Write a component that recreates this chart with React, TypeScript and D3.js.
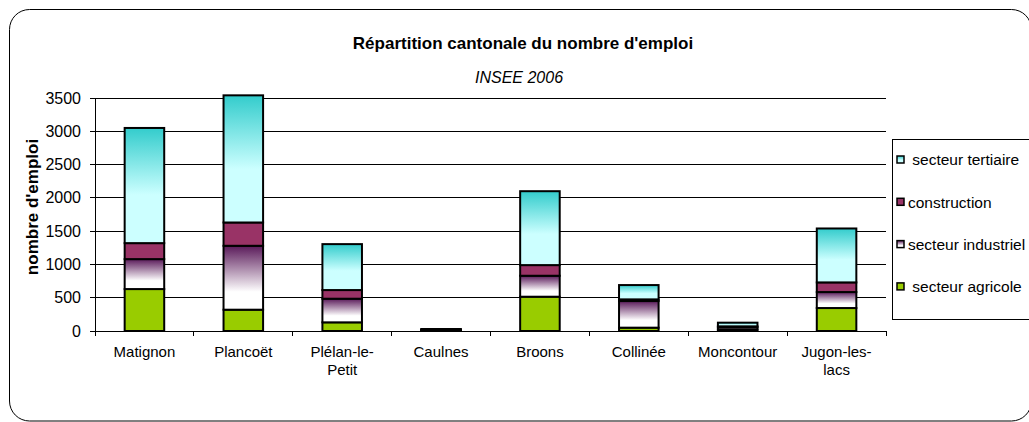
import React from "react";
import * as d3 from "d3";

// cantons
const categories = ["Matignon", "Plancoët", "Plélan-le-Petit", "Caulnes", "Broons", "Collinée", "Moncontour", "Jugon-les-lacs"];
const categoryLines = [["Matignon"], ["Plancoët"], ["Plélan-le-", "Petit"], ["Caulnes"], ["Broons"], ["Collinée"], ["Moncontour"], ["Jugon-les-", "lacs"]];

// emplois par secteur (INSEE 2006)
const agricole = [630, 320, 130, 5, 515, 50, 20, 345];
const industriel = [450, 960, 355, 10, 315, 400, 35, 240];
const construction = [240, 350, 130, 5, 160, 25, 15, 145];
const tertiaire = [1730, 1910, 690, 10, 1110, 215, 55, 810];

const seriesKeys = ["agricole", "industriel", "construction", "tertiaire"];
const legendLabels = [" secteur tertiaire", "construction", "secteur industriel", " secteur agricole"];
const legendKeys = ["tertiaire", "construction", "industriel", "agricole"];
const yTicks = [0, 500, 1000, 1500, 2000, 2500, 3000, 3500];

const fills: Record<string, string> = {
  agricole: "#99cc00",
  industriel: "url(#gradIndus)",
  construction: "#993366",
  tertiaire: "url(#gradTert)",
};

const font = "Arial, 'Liberation Sans', sans-serif";

export default function App() {
  const width = 1029;
  const height = 422;
  const plot = { left: 95, right: 886, top: 98, bottom: 331 };

  const rows = categories.map((c, i) => ({
    cat: c,
    agricole: agricole[i],
    industriel: industriel[i],
    construction: construction[i],
    tertiaire: tertiaire[i],
  }));
  const stacked = d3.stack<any>().keys(seriesKeys)(rows);

  const x = d3.scaleBand().domain(categories).range([plot.left, plot.right]).paddingInner(0.6).paddingOuter(0.3);
  const step = x.step();
  const y = d3.scaleLinear().domain([0, 3500]).range([plot.bottom, plot.top]);

  return (
    <svg width={width} height={height} style={{ position: "absolute", left: 0, top: 0, background: "#fff" }} fontFamily={font}>
      <defs>
        <linearGradient id="gradTert" x1="0" y1="0" x2="0" y2="1">
          <stop offset="0" stopColor="#33cccc" />
          <stop offset="0.58" stopColor="#ccffff" />
          <stop offset="1" stopColor="#ccffff" />
        </linearGradient>
        <linearGradient id="gradIndus" x1="0" y1="0" x2="0" y2="1">
          <stop offset="0" stopColor="#5a1a5a" />
          <stop offset="0.72" stopColor="#ffffff" />
          <stop offset="1" stopColor="#ffffff" />
        </linearGradient>
      </defs>

      {/* chart frame */}
      <rect x={9.5} y={9.5} width={1022} height={411.5} rx={20} fill="none" stroke="#000" strokeWidth={1} />

      <text x={523} y={49} textAnchor="middle" fontSize={17} fontWeight="bold">Répartition cantonale du nombre d'emploi</text>
      <text x={519} y={83} textAnchor="middle" fontSize={16} fontStyle="italic">INSEE 2006</text>

      {/* gridlines */}
      {yTicks.map((t) => (
        <line key={t} x1={plot.left - 5} x2={plot.right} y1={y(t)} y2={y(t)} stroke="#000" strokeWidth={1} shapeRendering="crispEdges" />
      ))}
      {yTicks.map((t) => (
        <text key={"l" + t} x={81} y={y(t)} dy="0.35em" textAnchor="end" fontSize={16}>{t}</text>
      ))}
      <line x1={plot.left} x2={plot.left} y1={plot.top} y2={plot.bottom} stroke="#000" shapeRendering="crispEdges" />
      <text transform={`translate(38,207) rotate(-90)`} textAnchor="middle" fontSize={17} fontWeight="bold">nombre d'emploi</text>

      {/* x axis ticks */}
      {d3.range(categories.length + 1).map((i) => (
        <line key={i} x1={plot.left + i * step} x2={plot.left + i * step} y1={plot.bottom} y2={plot.bottom + 5} stroke="#000" shapeRendering="crispEdges" />
      ))}
      {categories.map((c, i) => (
        <text key={c} x={(x(c) ?? 0) + x.bandwidth() / 2} y={357} textAnchor="middle" fontSize={15}>
          {categoryLines[i].map((ln, j) => (
            <tspan key={j} x={(x(c) ?? 0) + x.bandwidth() / 2} dy={j === 0 ? 0 : 18}>{ln}</tspan>
          ))}
        </text>
      ))}

      {/* bars */}
      {stacked.map((s) => (
        <g key={s.key}>
          {s.map((d: any) => (
            <rect
              key={d.data.cat}
              x={x(d.data.cat)}
              y={y(d[1])}
              width={x.bandwidth()}
              height={y(d[0]) - y(d[1])}
              fill={fills[s.key]}
              stroke="#000"
              strokeWidth={2}
            />
          ))}
        </g>
      ))}

      {/* legend */}
      <rect x={892.5} y={139.5} width={140} height={180} fill="#fff" stroke="#000" />
      {legendKeys.map((k, i) => (
        <g key={k} transform={`translate(897,${160 + i * 42.3})`}>
          <rect x={0} y={-4} width={7} height={7} fill={fills[k]} stroke="#000" strokeWidth={1.5} />
          <text x={11} y={0} dy="0.35em" fontSize={15.5} style={{ whiteSpace: "pre" }}>{legendLabels[i]}</text>
        </g>
      ))}
    </svg>
  );
}
